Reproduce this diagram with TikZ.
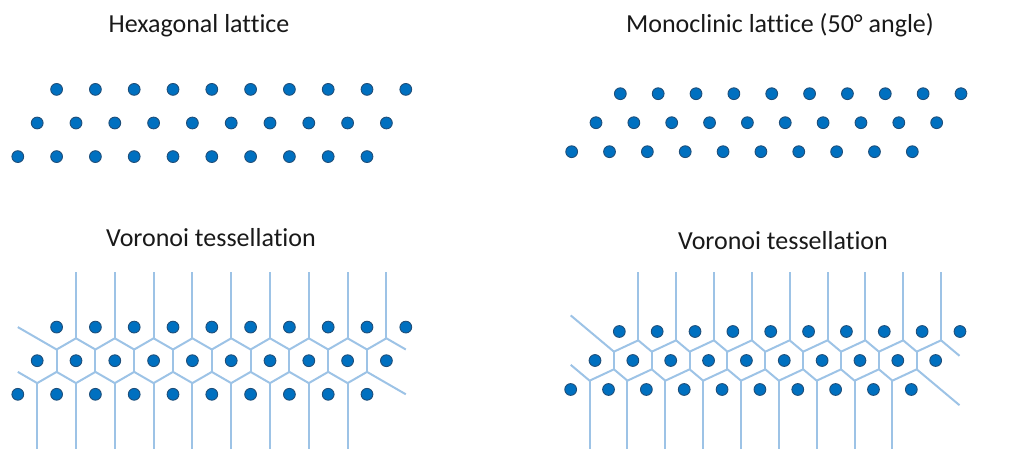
\documentclass[tikz,border=0pt]{standalone}
\usepackage{fontspec}
\setmainfont[Ligatures=NoCommon]{Carlito}
\definecolor{siteblue}{HTML}{0070C0}
\definecolor{siterim}{HTML}{1F4E79}
\definecolor{edgeblue}{HTML}{9DC3E6}

\tikzset{
  site/.style={circle, fill=siteblue, draw=siterim, line width=0.9pt,
    minimum size=11.8pt, inner sep=0pt},
  cell/.style={draw=edgeblue, line width=2pt, line join=round},
  heading/.style={font=\fontsize{26}{30}\selectfont, text=black!90, anchor=base,
    inner sep=0pt}
}

% Three rows of ten sites: middle row starts at (#2,#3), spacing #4,
% rows shifted by the second lattice vector at angle #5.
\newcommand\latticesites[5]{%
  \pgfmathsetmacro\sbx{#4*cos(#5)}%
  \pgfmathsetmacro\sby{#4*sin(#5)}%
  \foreach \k in {0,...,9}{
    \node[site] (#1-1-\k) at ({#2+\sbx+\k*#4},{#3-\sby}) {};
    \node[site] (#1-2-\k) at ({#2+\k*#4},{#3}) {};
    \node[site] (#1-3-\k) at ({#2-\sbx+\k*#4},{#3+\sby}) {};
  }
}

% Voronoi edges of the same three-row set of sites.
% #1,#2 first site of middle row, #3 spacing, #4 angle,
% #5/#6 left/right clip of the open edges, #7/#8 top/bottom of the rays.
\newcommand\voronoiedges[8]{%
  \pgfmathsetmacro\vh{#3/2}%
  \pgfmathsetmacro\vs{\vh*tan(#4/2)}%
  \pgfmathsetmacro\vtx{#3*(2*cos(#4)-1)/2}%
  \pgfmathsetmacro\vty{(\vh-\vtx*cos(#4))/sin(#4)}%
  \pgfmathsetmacro\lay{#2-\vs+((#5-(#1+\vh))/(\vtx-\vh))*(\vs-\vty)}%
  \pgfmathsetmacro\ray{#2-\vty+((#6-(#1+9*#3+\vtx))/(\vh-\vtx))*(\vty-\vs)}%
  \pgfmathsetmacro\lby{#2+\vty+((#5-(#1-\vtx))/(\vtx-\vh))*(\vs-\vty)}%
  \pgfmathsetmacro\rby{#2+\vs+((#6-(#1+9*#3-\vh))/(\vh-\vtx))*(\vty-\vs)}%
  % upper zigzag
  \draw[cell] (#5,\lay)
    \foreach \k in {1,...,9}{ -- ({#1+(\k-1)*#3+\vh},{#2-\vs}) -- ({#1+\k*#3+\vtx},{#2-\vty}) }
    -- (#6,\ray);
  % lower zigzag
  \draw[cell] (#5,\lby)
    \foreach \k in {0,...,8}{ -- ({#1+\k*#3-\vtx},{#2+\vty}) -- ({#1+\k*#3+\vh},{#2+\vs}) }
    -- (#6,\rby);
  % short walls between neighbours of the middle row, and the open rays
  \foreach \k in {1,...,9}{
    \draw[cell] ({#1+\k*#3-\vh},{#2-\vs}) -- ({#1+\k*#3-\vh},{#2+\vs});
    \draw[cell] ({#1+\k*#3+\vtx},{#2-\vty}) -- ({#1+\k*#3+\vtx},#7);
  }
  \foreach \k in {0,...,8}{
    \draw[cell] ({#1+\k*#3-\vtx},{#2+\vty}) -- ({#1+\k*#3-\vtx},#8);
  }
}

\begin{document}
\begin{tikzpicture}[x=1pt, y=-1pt]
  \useasboundingbox (0,0) rectangle (1034,449);

  % headings
  \node[heading] (hexhead) at (199,32.5) {Hexagonal lattice};
  \node[heading] (monohead) at (780,32.5) {Monoclinic lattice (50° angle)};
  \node[heading] (hexvor) at (211,247) {Voronoi tessellation};
  \node[heading] (monovor) at (783,249.5) {Voronoi tessellation};

  % lattices
  \latticesites{hx}{37.2}{123}{38.8}{60}
  \latticesites{mc}{596}{122.7}{37.85}{50}

  % tessellations
  \voronoiedges{37.2}{360.7}{38.8}{60}{17.8}{405.8}{272}{449}
  \latticesites{hv}{37.2}{360.7}{38.8}{60}
  \voronoiedges{595}{360.5}{37.85}{50}{570.7}{959.5}{272}{449}
  \latticesites{mv}{595}{360.5}{37.85}{50}
\end{tikzpicture}
\end{document}
